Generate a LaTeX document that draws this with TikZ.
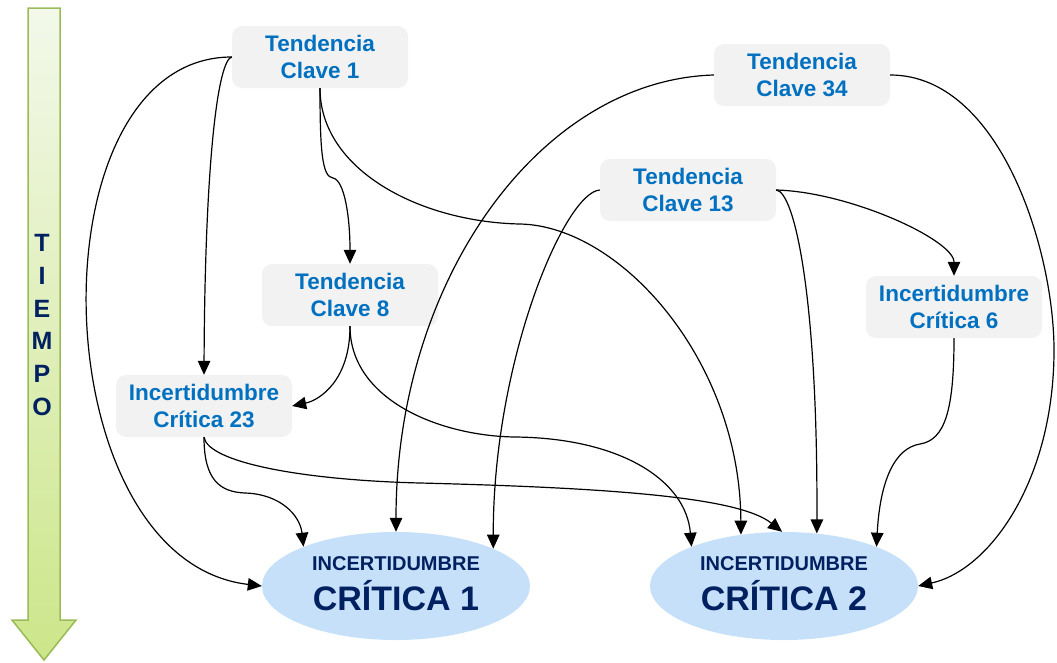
\documentclass[tikz,border=0pt]{standalone}
\usepackage{fontspec}
\setmainfont{Liberation Sans}
\usetikzlibrary{arrows.meta,shapes.geometric}
\definecolor{boxfill}{RGB}{242,242,242}
\definecolor{boxtext}{RGB}{0,112,192}
\definecolor{ellfill}{RGB}{198,224,250}
\definecolor{elltext}{RGB}{0,32,96}
\definecolor{arrtop}{RGB}{243,248,234}
\definecolor{arrbot}{RGB}{204,230,138}
\definecolor{arrline}{RGB}{155,187,89}
\begin{document}
\begin{tikzpicture}[x=1pt,y=-1pt,
 kbox/.style={fill=boxfill, rounded corners=10pt, minimum width=176pt, minimum height=62pt, inner sep=0pt, align=center, text=boxtext, font=\fontsize{22.5}{27.6}\selectfont\bfseries},
 kell/.style={ellipse, fill=ellfill, minimum width=268pt, minimum height=108pt, inner sep=0pt, align=center, text=elltext, font=\fontsize{34}{39.5}\selectfont\bfseries},
 link/.style={draw=black, line width=1.2pt, -{Triangle[length=14pt,width=12.5pt]}}]
\useasboundingbox (0,0) rectangle (1057,662);
% time arrow
\path[draw=arrline, line width=1.5pt, line join=miter, top color=arrtop, bottom color=arrbot]
  (28,8) -- (60,8) -- (60,620) -- (76,620) -- (44,660) -- (12,620) -- (28,620) -- cycle;
\node[font=\fontsize{25}{32.8}\selectfont\bfseries, text=elltext, align=center, inner sep=0pt] (tiempo) at (42,325) {T\\I\\E\\M\\P\\O};
% nodes
\node[kbox] (tc1) at (320,57) {Tendencia\\Clave 1};
\node[kbox] (tc34) at (802,75) {Tendencia\\Clave 34};
\node[kbox] (tc13) at (688,190) {Tendencia\\Clave 13};
\node[kbox] (tc8) at (350,295) {Tendencia\\Clave 8};
\node[kbox] (ic6) at (954,307) {Incertidumbre\\Crítica 6};
\node[kbox] (ic23) at (204,406) {Incertidumbre\\Crítica 23};
\node[kell] (ci1) at (396,586) {{\fontsize{20}{24}\selectfont INCERTIDUMBRE}\\CRÍTICA 1\rule[-5pt]{0pt}{5pt}};
\node[kell] (ci2) at (784,586) {{\fontsize{20}{24}\selectfont INCERTIDUMBRE}\\CRÍTICA 2\rule[-5pt]{0pt}{5pt}};
% connectors
\draw[link] (tc1.west) .. controls (30,57) and (40,560) .. (ci1.180);
\draw[link] (tc1.west) .. controls (218,60) and (205,160) .. (ic23.north);
\draw[link] (tc1.south) .. controls (320,150) and (322,177) .. (333,178) .. controls (344,180) and (350,215) .. (tc8.north);
\draw[link] (tc1.south) .. controls (320,170) and (420,222) .. (520,224) .. controls (620,226) and (740,360) .. (ci2.130);
\draw[link] (tc34.west) .. controls (540,80) and (396,280) .. (ci1.north);
\draw[link] (tc34.east) .. controls (1000,75) and (1054,250) .. (1054,350) .. controls (1054,480) and (990,570) .. (ci2.east);
\draw[link] (tc13.west) .. controls (565,192) and (493,360) .. (ci1.21);
\draw[link] (tc13.east) .. controls (850,192) and (954,240) .. (ic6.north);
\draw[link] (tc13.east) .. controls (795,192) and (818,300) .. (ci2.58);
\draw[link] (tc8.south) .. controls (350,380) and (320,400) .. (ic23.east);
\draw[link] (tc8.south) .. controls (350,400) and (440,436) .. (515,437) .. controls (620,438) and (686,480) .. (ci2.157);
\draw[link] (ic23.south) .. controls (204,480) and (220,492) .. (245,493) .. controls (280,494) and (300,515) .. (ci1.157);
\draw[link] (ic23.south) .. controls (208,462) and (300,480) .. (420,483) .. controls (620,488) and (740,498) .. (ci2.92);
\draw[link] (ic6.south) .. controls (954,410) and (945,440) .. (920,444) .. controls (895,448) and (880,480) .. (ci2.23);
\end{tikzpicture}
\end{document}
